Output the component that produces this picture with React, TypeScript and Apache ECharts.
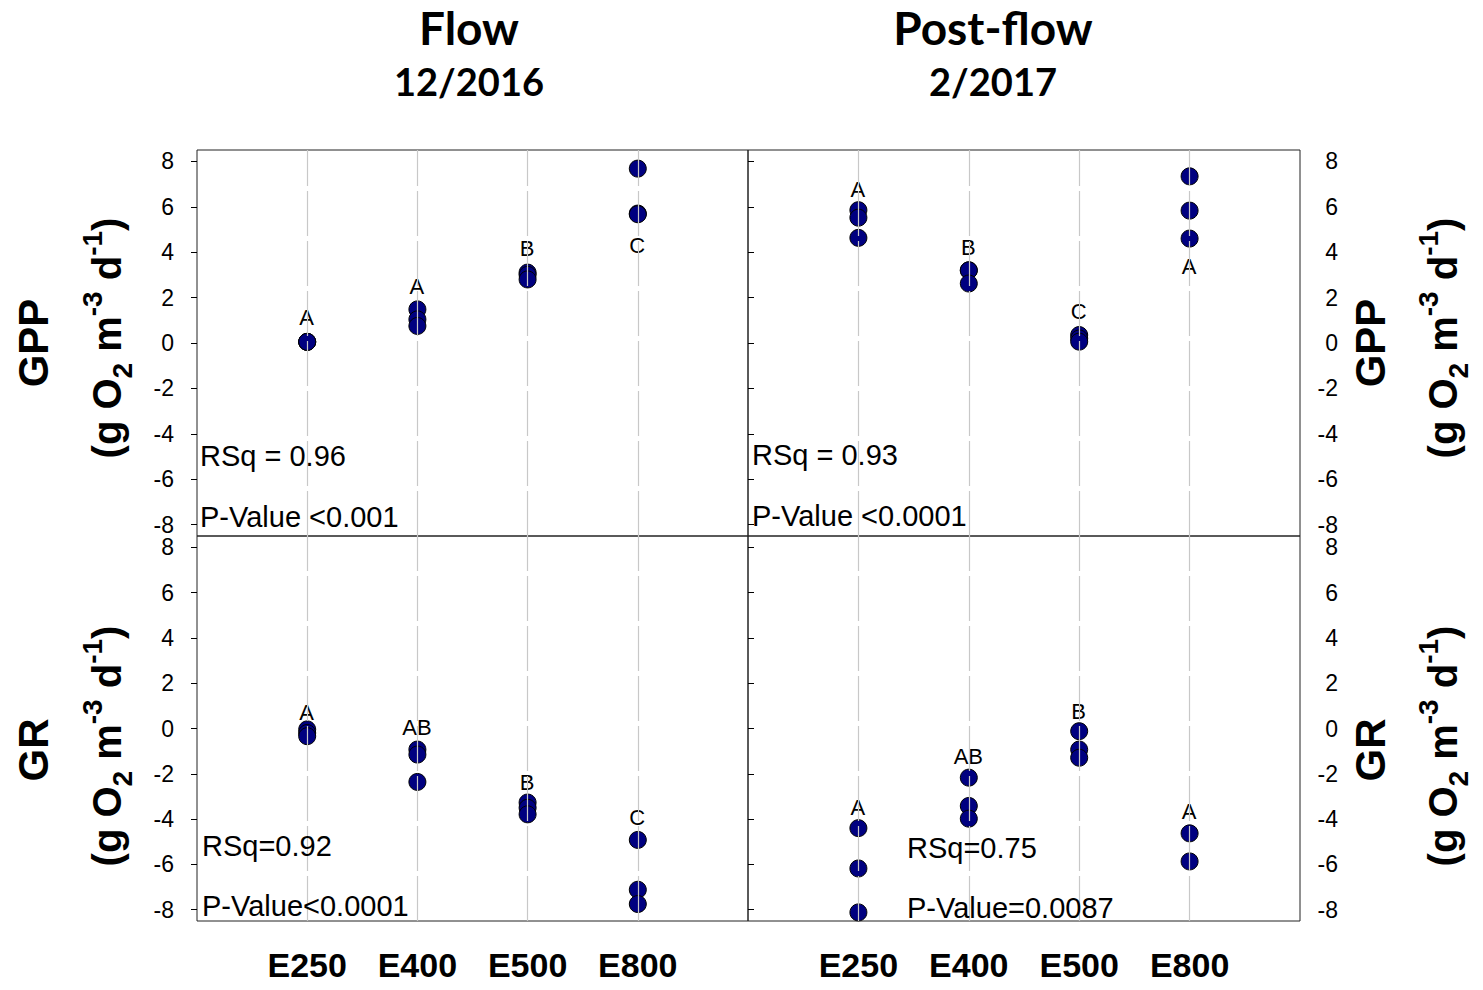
import React, { useEffect, useRef } from "react";
import * as echarts from "echarts";

// ---------- data ----------
const sites = ["E250", "E400", "E500", "E800"];
const yTicks = [-8, -6, -4, -2, 0, 2, 4, 6, 8];

// values per site (three replicates where visible)
const flowGPP = [[0.05, 0.05, 0.05], [1.48, 1.04, 0.75], [3.1, 3.0, 2.8], [7.68, 5.7, 5.67]];
const postGPP = [[5.85, 5.52, 4.63], [3.2, 3.2, 2.62], [0.35, 0.2, 0.06], [7.34, 5.83, 4.6]];
const flowGR = [[-0.04, -0.2, -0.34], [-0.93, -1.15, -2.36], [-3.27, -3.5, -3.79], [-4.92, -7.12, -7.75]];
const postGR = [[-4.4, -6.18, -8.12], [-2.17, -3.42, -3.98], [-0.12, -0.93, -1.29], [-4.63, -5.87]];

// significance letters and their heights
const flowGPPLetters = ["A", "A", "B", "C"];
const flowGPPLetterY = [1.1, 2.47, 4.15, 4.28];
const postGPPLetters = ["A", "B", "C", "A"];
const postGPPLetterY = [6.73, 4.19, 1.38, 3.33];
const flowGRLetters = ["A", "AB", "B", "C"];
const flowGRLetterY = [0.69, 0.03, -2.39, -3.93];
const postGRLetters = ["A", "AB", "B", "A"];
const postGRLetterY = [-3.49, -1.26, 0.75, -3.69];

const statTexts = [
  ["RSq = 0.96", "P-Value <0.001"],
  ["RSq = 0.93", "P-Value <0.0001"],
  ["RSq=0.92", "P-Value<0.0001"],
  ["RSq=0.75", "P-Value=0.0087"],
];

const columnTitles = ["Flow", "Post-flow"];
const columnDates = ["12/2016", "2/2017"];
const rowNames = ["GPP", "GR"];

// ---------- layout ----------
const FONT = '"Liberation Sans", Arial, sans-serif';
const grids = [
  { left: 197, top: 150, width: 551, height: 386 },
  { left: 748, top: 150, width: 552, height: 386 },
  { left: 197, top: 536, width: 551, height: 385 },
  { left: 748, top: 536, width: 552, height: 385 },
];

const panelValues = [flowGPP, postGPP, flowGR, postGR];
const panelLetters = [flowGPPLetters, postGPPLetters, flowGRLetters, postGRLetters];
const panelLetterY = [flowGPPLetterY, postGPPLetterY, flowGRLetterY, postGRLetterY];

const statPos = [
  { x: 200, y1: 456, y2: 517 },
  { x: 752, y1: 455, y2: 516 },
  { x: 202, y1: 846, y2: 906 },
  { x: 907, y1: 848, y2: 908 },
];

function unitsText() {
  return "{m|(g O}{sub|2}{m| m}{sup|-3}{m| d}{sup|-1}{m|)}";
}
const unitsRich = {
  m: { font: `bold 40px ${FONT}`, lineHeight: 58, fill: "#000" },
  sub: { font: `bold 28px ${FONT}`, lineHeight: 28, verticalAlign: "bottom", fill: "#000" },
  sup: { font: `bold 28px ${FONT}`, lineHeight: 28, verticalAlign: "top", fill: "#000" },
};

export default function App() {
  const ref = useRef<HTMLDivElement>(null);

  useEffect(() => {
    if (!ref.current) return;
    const chart = echarts.init(ref.current, undefined, { renderer: "svg" });

    const xAxes: any[] = [];
    const yAxes: any[] = [];
    const series: any[] = [];

    grids.forEach((g, i) => {
      const isBottom = i >= 2;
      const isRight = i % 2 === 1;
      xAxes.push({
        gridIndex: i,
        type: "value",
        min: 0,
        max: 5,
        axisLine: { show: false },
        axisTick: {
          show: true,
          customValues: [1, 2, 3, 4],
          length: 5,
          lineStyle: { color: "#000" },
        },
        axisLabel: {
          show: isBottom,
          customValues: [1, 2, 3, 4],
          formatter: (v: number) => sites[Math.round(v) - 1] || "",
          fontFamily: FONT,
          fontWeight: "bold",
          fontSize: 34,
          color: "#000",
          margin: 27,
        },
        splitLine: { show: false },
      });
      yAxes.push({
        gridIndex: i,
        type: "value",
        min: -8.5,
        max: 8.5,
        position: isRight ? "right" : "left",
        axisLine: { show: false },
        axisTick: {
          show: true,
          customValues: yTicks,
          length: 6,
          lineStyle: { color: "#000" },
        },
        axisLabel: {
          customValues: yTicks,
          fontFamily: FONT,
          fontSize: 23,
          color: "#000",
          align: "right",
          margin: isRight ? 38 : 23,
        },
        splitLine: { show: false },
      });

      // dashed vertical guide lines
      series.push({
        type: "scatter",
        xAxisIndex: i,
        yAxisIndex: i,
        data: [],
        silent: true,
        z: 1,
        markLine: {
          silent: true,
          symbol: ["none", "none"],
          label: { show: false },
          lineStyle: { type: [45, 5], color: "#c8c8c8", width: 1.2 },
          data: sites.map((_, k) => ({ xAxis: k + 1 })),
        },
      });

      // points
      const pts: number[][] = [];
      panelValues[i].forEach((vals, k) => vals.forEach((v) => pts.push([k + 1, v])));
      series.push({
        type: "scatter",
        xAxisIndex: i,
        yAxisIndex: i,
        data: pts,
        symbol: "circle",
        symbolSize: 17,
        z: 3,
        itemStyle: { color: "#000080", borderColor: "#000", borderWidth: 1, opacity: 1 },
      });

      // letters
      series.push({
        type: "scatter",
        xAxisIndex: i,
        yAxisIndex: i,
        data: panelLetters[i].map((l, k) => [k + 1, panelLetterY[i][k], l]),
        symbol: "circle",
        symbolSize: 1,
        z: 4,
        silent: true,
        itemStyle: { color: "#fff", opacity: 0 },
        label: {
          show: true,
          position: [0, 0],
          align: "center",
          verticalAlign: "middle",
          formatter: (p: any) => p.data[2],
          fontFamily: FONT,
          fontSize: 22,
          color: "#000",
          opacity: 1,
          textBorderWidth: 0,
        },
      });
    });

    const graphics: any[] = [];
    // column titles
    columnTitles.forEach((t, c) => {
      const cx = c === 0 ? 469 : 993;
      graphics.push({
        type: "text",
        x: cx,
        y: 27,
        style: {
          text: t,
          font: `bold 46px Lato, ${FONT}`,
          fill: "#000",
          align: "center",
          verticalAlign: "middle",
          textAlign: "center",
          textVerticalAlign: "middle",
        },
      });
      graphics.push({
        type: "text",
        x: cx,
        y: 81,
        style: {
          text: columnDates[c],
          font: `bold 38px Lato, ${FONT}`,
          fill: "#000",
          align: "center",
          verticalAlign: "middle",
          textAlign: "center",
          textVerticalAlign: "middle",
        },
      });
    });

    // row titles (left and right)
    rowNames.forEach((r, ri) => {
      const nameY = ri === 0 ? 343 : 750;
      const unitY = ri === 0 ? 338 : 746;
      [
        { nx: 33, ux: 107 },
        { nx: 1370, ux: 1443 },
      ].forEach((p) => {
        graphics.push({
          type: "text",
          x: p.nx,
          y: nameY,
          rotation: Math.PI / 2,
          style: {
            text: r,
            font: `bold 42px ${FONT}`,
            fill: "#000",
            align: "center",
            verticalAlign: "middle",
            textAlign: "center",
            textVerticalAlign: "middle",
          },
        });
        graphics.push({
          type: "text",
          x: p.ux,
          y: unitY,
          rotation: Math.PI / 2,
          style: {
            text: unitsText(),
            rich: unitsRich,
            fill: "#000",
            align: "center",
            verticalAlign: "middle",
            textAlign: "center",
            textVerticalAlign: "middle",
          },
        });
      });
    });

    // stats
    statTexts.forEach((s, i) => {
      const p = statPos[i];
      [s[0], s[1]].forEach((txt, j) => {
        graphics.push({
          type: "text",
          x: p.x,
          y: j === 0 ? p.y1 : p.y2,
          z: 10,
          style: {
            text: txt,
            font: `29px ${FONT}`,
            fill: "#000",
            align: "left",
            verticalAlign: "middle",
            textAlign: "left",
            textVerticalAlign: "middle",
          },
        });
      });
    });

    chart.setOption({
      animation: false,
      backgroundColor: "#fff",
      grid: grids.map((g) => ({
        ...g,
        show: true,
        borderColor: "#222",
        borderWidth: 1,
        backgroundColor: "rgba(0,0,0,0)",
      })),
      xAxis: xAxes,
      yAxis: yAxes,
      series,
      graphic: graphics,
    });

    return () => chart.dispose();
  }, []);

  return (
    <div
      ref={ref}
      style={{ position: "fixed", left: 0, top: 0, width: 1483, height: 990, background: "#fff" }}
    />
  );
}
